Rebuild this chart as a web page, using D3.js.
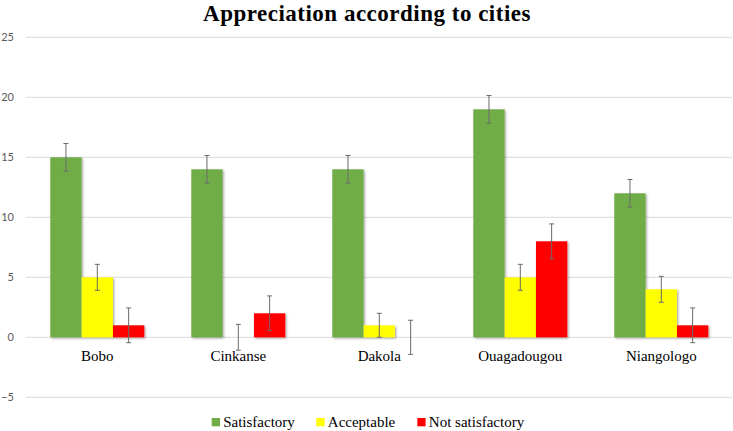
<!DOCTYPE html>
<html><head><meta charset="utf-8">
<script src="https://cdn.jsdelivr.net/npm/d3@7"></script>
<style>body{margin:0;background:#fff}svg{display:block}</style>
</head><body>
<svg id="c" width="733" height="431"></svg>
<script>
const categories = ["Bobo", "Cinkanse", "Dakola", "Ouagadougou", "Niangologo"];
const seriesNames = ["Satisfactory", "Acceptable", "Not satisfactory"];
const satisfactory = [15, 14, 14, 19, 12];
const acceptable = [5, 0, 1, 5, 4];
const notSatisfactory = [1, 2, 0, 8, 1];
const errSatisfactory = [1.15, 1.15, 1.15, 1.15, 1.15];
const errAcceptable = [1.08, 1.08, 1.0, 1.08, 1.08];
const errNotSatisfactory = [1.45, 1.45, 1.42, 1.45, 1.45];
const yTicks = [-5, 0, 5, 10, 15, 20, 25];
const colors = ["#70AD47", "#FFFF00", "#FF0000"];
const title = "Appreciation according to cities";

const values = [satisfactory, acceptable, notSatisfactory];
const errs = [errSatisfactory, errAcceptable, errNotSatisfactory];

const svg = d3.select("#c");
const defs = svg.append("defs");
const f = defs.append("filter").attr("id","sh").attr("x","-20%").attr("y","-20%").attr("width","140%").attr("height","140%");
f.append("feDropShadow").attr("dx",1.2).attr("dy",1.2).attr("stdDeviation",0.9).attr("flood-color","#000").attr("flood-opacity",0.35);

const x0 = d3.scaleBand().domain(categories).range([26.8, 731.8]).paddingInner(1/3).paddingOuter(1/6);
const x1 = d3.scaleBand().domain(seriesNames).range([0, x0.bandwidth()]);
const y = d3.scaleLinear().domain([-5, 25]).range([397.3, 37.3]);

// gridlines
svg.append("g").selectAll("line").data(yTicks).join("line")
  .attr("x1", 26).attr("x2", 732)
  .attr("y1", d => y(d)).attr("y2", d => y(d))
  .attr("stroke", "#D9D9D9").attr("stroke-width", 1);

// y axis labels
const yAxis = d3.axisLeft(y).tickValues(yTicks).tickSize(0).tickPadding(0);
const gy = svg.append("g").attr("transform", "translate(14,0)").call(yAxis);
gy.select(".domain").remove();
gy.selectAll("text").attr("fill", "#595959").style("font-family", "Lato, 'Open Sans', sans-serif").style("font-size", "11px");

// bars
const groups = svg.append("g").selectAll("g").data(categories).join("g")
  .attr("transform", d => `translate(${x0(d)},0)`);

seriesNames.forEach((s, si) => {
  groups.filter((c, i) => values[si][i] !== 0).append("rect")
    .attr("x", x1(s)).attr("width", x1.bandwidth())
    .attr("y", (c) => y(values[si][categories.indexOf(c)]))
    .attr("height", (c) => y(0) - y(values[si][categories.indexOf(c)]))
    .attr("fill", colors[si]).attr("filter", "url(#sh)");
});

// error bars
seriesNames.forEach((s, si) => {
  groups.each(function(c, i) {
    const g = d3.select(this);
    const cx = x1(s) + x1.bandwidth() / 2;
    const v = values[si][i], e = errs[si][i];
    const top = y(v + e), bot = y(v - e);
    const col = "#6b6b6b";
    g.append("line").attr("x1", cx).attr("x2", cx).attr("y1", top).attr("y2", bot).attr("stroke", col).attr("stroke-width", 1);
    g.append("line").attr("x1", cx - 2.5).attr("x2", cx + 2.5).attr("y1", top).attr("y2", top).attr("stroke", col).attr("stroke-width", 1);
    g.append("line").attr("x1", cx - 2.5).attr("x2", cx + 2.5).attr("y1", bot).attr("y2", bot).attr("stroke", col).attr("stroke-width", 1);
  });
});

// category labels
svg.append("g").selectAll("text").data(categories).join("text")
  .attr("x", d => x0(d) + x0.bandwidth() / 2).attr("y", 360.5)
  .attr("text-anchor", "middle")
  .style("font-family", "'Liberation Serif', 'Times New Roman', serif").style("font-size", "15px")
  .attr("fill", "#000").text(d => d);

// title
svg.append("text").attr("x", 367).attr("y", 20.5).attr("text-anchor", "middle")
  .style("font-family", "'Liberation Serif', 'Times New Roman', serif").style("font-size", "23px").style("font-weight", "bold")
  .style("letter-spacing", "0.5px")
  .attr("fill", "#000").text(title);

// legend
const legX = [211.7, 316.3, 417.3];
const leg = svg.append("g").selectAll("g").data(seriesNames).join("g")
  .attr("transform", (d, i) => `translate(${legX[i]},0)`);
leg.append("rect").attr("x", 0).attr("y", 418).attr("width", 8.3).attr("height", 8.3).attr("fill", (d, i) => colors[i]);
leg.append("text").attr("x", 11.5).attr("y", 426.5)
  .style("font-family", "'Liberation Serif', 'Times New Roman', serif").style("font-size", "15px")
  .attr("fill", "#000").text(d => d);
</script>
</body></html>
